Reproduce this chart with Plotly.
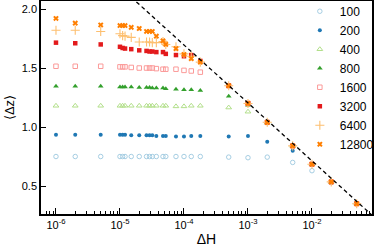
import plotly.graph_objects as go

# ---------------- data ----------------
delta_h = [1e-6, 2e-6, 5e-6, 1e-5, 1.1e-5, 1.2e-5, 1.5e-5, 2e-5, 2.6e-5, 2.9e-5,
           3.2e-5, 3.7e-5, 4.7e-5, 5.2e-5, 7.5e-5, 1e-4, 1.3e-4, 1.8e-4,
           5e-4, 1e-3, 2e-3, 5e-3, 1e-2, 2e-2, 5e-2]

series_names = ["100", "200", "400", "800", "1600", "3200", "6400", "12800"]

dz_100 = [0.75, 0.75, 0.75, 0.75, 0.75, 0.75, 0.75, 0.75, 0.75, 0.75, 0.75, 0.75, 0.75,
          0.75, 0.75, 0.75, 0.75, 0.75, 0.745, 0.74, 0.745, 0.70, 0.63, 0.53, 0.35]
dz_200 = [0.935, 0.935, 0.935, 0.935, 0.935, 0.935, 0.93, 0.93, 0.93, 0.93, 0.93, 0.925,
          0.925, 0.925, 0.92, 0.92, 0.925, 0.925, 0.92, 0.925, 0.875, 0.80, 0.685, 0.535, 0.35]
dz_400 = [1.18, 1.18, 1.18, 1.18, 1.18, 1.18, 1.18, 1.18, 1.18, 1.18, 1.18, 1.18, 1.18,
          1.18, 1.175, 1.175, 1.18, 1.18, 1.165, 1.13, 1.035, 0.84, 0.685, 0.535, 0.35]
dz_800 = [1.345, 1.345, 1.345, 1.34, 1.34, 1.34, 1.34, 1.335, 1.335, 1.335, 1.33, 1.33,
          1.33, 1.325, 1.32, 1.315, 1.315, 1.31, 1.26, 1.185, 1.04, 0.84, 0.685, 0.535, 0.35]
dz_1600 = [1.515, 1.515, 1.515, 1.51, 1.51, 1.51, 1.505, 1.50, 1.50, 1.50, 1.50, 1.495,
           1.49, 1.49, 1.49, 1.48, 1.475, 1.465, 1.35, 1.20, 1.04, 0.84, 0.685, 0.535, 0.35]
dz_3200 = [1.715, 1.71, 1.70, 1.68, 1.67, 1.665, 1.66, 1.65, 1.645, 1.64, 1.64, 1.635,
           1.635, 1.62, 1.61, 1.60, 1.61, 1.56, 1.35, 1.20, 1.04, 0.84, 0.685, 0.535, 0.35]
dz_6400 = [1.82, 1.82, 1.81, 1.79, 1.775, 1.77, 1.76, 1.72, 1.72, 1.72, 1.715, 1.715,
           1.725, 1.70, 1.68, 1.62, 1.60, 1.55, 1.35, 1.20, 1.04, 0.84, 0.685, 0.535, 0.35]
dz_12800 = [1.92, 1.88, 1.865, 1.86, 1.86, 1.86, 1.845, 1.835, 1.81, 1.81, 1.81, 1.77,
            1.73, 1.70, 1.665, 1.615, 1.58, 1.55, 1.35, 1.20, 1.04, 0.84, 0.685, 0.535, 0.35]

guide_h = [1.5e-5, 8.5e-2]
guide_dz = [2.10, 0.257]

x_tick_vals = [1e-6, 1e-5, 1e-4, 1e-3, 1e-2]
x_tick_text = ["10<sup>-6</sup>", "10<sup>-5</sup>", "10<sup>-4</sup>",
               "10<sup>-3</sup>", "10<sup>-2</sup>"]
y_tick_vals = [0.5, 1.0, 1.5, 2.0]
y_tick_text = ["0.5", "1.0", "1.5", "2.0"]

# ---------------- styles ----------------
all_values = [dz_100, dz_200, dz_400, dz_800, dz_1600, dz_3200, dz_6400, dz_12800]
colors = ["#a6cee3", "#1f78b4", "#b2df8a", "#33a02c", "#fb9a99", "#e31a1c", "#fdbf6f", "#ff7f00"]
symbols = ["circle-open", "circle", "triangle-up-open", "triangle-up",
           "square-open", "square", "cross-thin-open", "x"]
sizes = [4.5, 4, 5, 5, 4.5, 4.5, 6.5, 5]
line_w = [1, 0, 1, 0, 1, 0, 1.1, 0]

FONT = "Liberation Sans, Arial, sans-serif"

fig = go.Figure()
for name, vals, c, s, sz, lw in zip(series_names, all_values, colors, symbols, sizes, line_w):
    fig.add_trace(go.Scatter(
        x=delta_h, y=vals, mode="markers", name=name,
        marker=dict(symbol=s, color=c, size=sz, line=dict(color=c, width=lw)),
    ))

fig.add_trace(go.Scatter(
    x=guide_h, y=guide_dz, mode="lines", showlegend=False,
    line=dict(color="black", width=1.3, dash="4px,3px"),
))

minor_vals = [m * 10 ** e for e in range(-7, -1) for m in range(2, 10)]

fig.update_layout(
    width=374, height=250,
    margin=dict(l=41, r=2, t=1, b=36, autoexpand=False),
    plot_bgcolor="white", paper_bgcolor="white",
    font=dict(family=FONT, size=11, color="black"),
    showlegend=True,
    legend=dict(x=0.782, y=1.02, xanchor="left", yanchor="top",
                bgcolor="rgba(0,0,0,0)", borderwidth=0,
                font=dict(family=FONT, size=12, color="black"),
                itemwidth=30, tracegroupgap=0, maxheight=240),
    xaxis=dict(
        type="log", range=[-6.234, -1.062], automargin=False,
        tickmode="array", tickvals=x_tick_vals, ticktext=x_tick_text,
        ticks="inside", ticklen=6, tickwidth=1, tickcolor="black",
        minor=dict(tickmode="array", tickvals=minor_vals, ticks="inside",
                   ticklen=3, tickwidth=1, tickcolor="black", showgrid=False),
        showline=True, linecolor="black", linewidth=1.5, mirror=True,
        showgrid=False, zeroline=False,
        tickfont=dict(family=FONT, size=11),
        title=dict(text="ΔH", font=dict(family=FONT, size=14), standoff=4),
    ),
    yaxis=dict(
        range=[0.263, 2.068], automargin=False,
        tickmode="array", tickvals=y_tick_vals, ticktext=y_tick_text,
        ticks="inside", ticklen=5, tickwidth=1, tickcolor="black",
        showline=True, linecolor="black", linewidth=1.5, mirror=True,
        showgrid=False, zeroline=False,
        tickfont=dict(family=FONT, size=11),
        title=dict(text="⟨Δz⟩", font=dict(family=FONT, size=13), standoff=4),
    ),
)

fig.write_html(
    "out.html",
    config={"displayModeBar": False},
    post_script="document.body.style.margin='0';document.body.style.padding='0';",
)
